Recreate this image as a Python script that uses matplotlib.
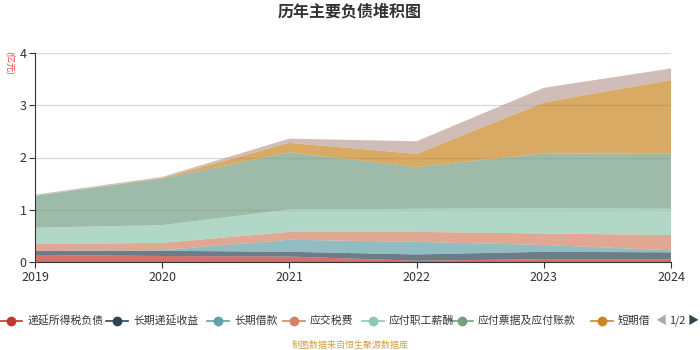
import numpy as np
import matplotlib
matplotlib.use("Agg")
import matplotlib.pyplot as plt
from matplotlib.lines import Line2D

plt.rcParams['font.family'] = ['Noto Sans CJK SC', 'DejaVu Sans']

# donnees (en 亿元)
years = ["2019", "2020", "2021", "2022", "2023", "2024"]
series_names = ["递延所得税负债", "长期递延收益", "长期借款", "应交税费",
                "应付职工薪酬", "应付票据及应付账款", "短期借款", "其他"]
deferred_tax = [0.14, 0.12, 0.11, 0.03, 0.06, 0.06]
deferred_income = [0.08, 0.10, 0.09, 0.12, 0.14, 0.13]
long_loans = [0.00, 0.01, 0.23, 0.24, 0.13, 0.04]
taxes_payable = [0.13, 0.14, 0.15, 0.19, 0.22, 0.29]
payroll = [0.31, 0.34, 0.43, 0.44, 0.48, 0.50]
notes_payable = [0.61, 0.89, 1.09, 0.80, 1.05, 1.05]
short_loans = [0.00, 0.01, 0.18, 0.25, 0.97, 1.41]
other = [0.02, 0.02, 0.08, 0.24, 0.28, 0.22]

colors = ["#c23531", "#2f4554", "#61a0a8", "#d48265", "#91c7ae",
          "#749f83", "#ca8622", "#bda29a"]

data = np.array([deferred_tax, deferred_income, long_loans, taxes_payable,
                 payroll, notes_payable, short_loans, other])

fig = plt.figure(figsize=(7, 3.5), dpi=100)
ax = fig.add_axes([0.05, 0.2506, 0.9086, 0.5988])

x = np.arange(len(years))
ax.stackplot(x, data, colors=colors, alpha=0.7, linewidth=0)

ax.set_xlim(0, len(years) - 1)
ax.set_ylim(0, 4)
ax.set_xticks(x)
ax.set_xticklabels(years)
ax.set_yticks([0, 1, 2, 3, 4])
ax.grid(axis="y", color="#d9d9d9", linewidth=1)
ax.set_axisbelow(True)

for side in ["top", "right"]:
    ax.spines[side].set_visible(False)
for side in ["left", "bottom"]:
    ax.spines[side].set_color("#333333")
ax.tick_params(axis="both", colors="#333333", labelsize=9, length=4,
               labelcolor="#333333", pad=2)

# titre, unite, source
fig.text(0.5, 0.966, "历年主要负债堆积图", ha="center", va="center",
         fontsize=11.5, fontweight="bold", color="#333333")
fig.text(0.013, 0.82, "(亿元)", ha="center", va="center", rotation=-90,
         fontsize=6.5, color="#ff3333")
fig.text(0.5, 0.014, "制图数据来自恒生聚源数据库", ha="center", va="center",
         fontsize=6.5, color="#d4a040")

# legende (page 1/2)
lax = fig.add_axes([0, 0, 1, 1])
lax.set_xlim(0, 700)
lax.set_ylim(350, 0)
lax.axis("off")
leg_y = 321
marker_x = [11, 117, 218, 294, 373, 462, 602]
for i, mx in enumerate(marker_x):
    lax.add_line(Line2D([mx - 11, mx + 11], [leg_y, leg_y], color=colors[i], lw=1.2))
    lax.plot(mx, leg_y, "o", color=colors[i], markersize=6)
    label = series_names[i] if i < 6 else "短期借"
    lax.text(mx + 16, leg_y, label, ha="left", va="center", fontsize=7.8,
             color="#333333")
lax.text(661, leg_y, "◀", ha="center", va="center", fontsize=8, color="#aaaaaa")
lax.text(677, leg_y, "1/2", ha="center", va="center", fontsize=7.8, color="#333333")
lax.text(693, leg_y, "▶", ha="center", va="center", fontsize=8, color="#2f4554")

fig.savefig("out.png", dpi=100)
